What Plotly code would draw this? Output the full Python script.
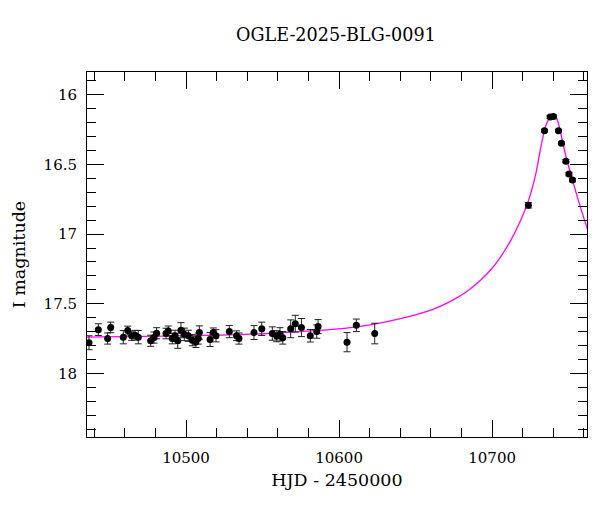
import plotly.graph_objects as go

# observed photometry (HJD - 2450000, I mag, error)
hjd = [10436.6, 10442.7, 10448.8, 10450.8, 10459.0, 10461.9, 10464.5, 10466.7, 10468.8,
       10476.9, 10479.1, 10480.8, 10486.9, 10488.4, 10491.0, 10492.8, 10494.6, 10496.7,
       10498.9, 10501.5, 10504.1, 10506.5, 10508.0, 10508.7, 10515.7, 10517.8, 10519.6,
       10528.3, 10533.0, 10534.6, 10544.4, 10549.5, 10556.4, 10559.3, 10561.4, 10563.2,
       10568.4, 10571.4, 10575.4, 10581.2, 10585.4, 10586.3, 10605.2, 10611.3, 10623.3,
       10723.7, 10734.2, 10737.9, 10740.1, 10743.4, 10745.3, 10748.2, 10750.2, 10752.5]
mag = [17.780, 17.686, 17.750, 17.670, 17.740, 17.693, 17.730, 17.726, 17.740,
       17.766, 17.743, 17.712, 17.714, 17.695, 17.750, 17.730, 17.766, 17.690,
       17.720, 17.730, 17.762, 17.774, 17.750, 17.707, 17.757, 17.707, 17.730,
       17.700, 17.730, 17.750, 17.707, 17.680, 17.714, 17.733, 17.720, 17.745,
       17.680, 17.643, 17.671, 17.730, 17.700, 17.664, 17.776, 17.655, 17.714,
       16.793, 16.257, 16.160, 16.155, 16.257, 16.348, 16.476, 16.569, 16.612]
err = [0.050, 0.042, 0.040, 0.038, 0.048, 0.032, 0.033, 0.035, 0.048,
       0.040, 0.040, 0.040, 0.038, 0.035, 0.038, 0.040, 0.054, 0.054,
       0.045, 0.040, 0.040, 0.040, 0.040, 0.048, 0.050, 0.033, 0.044,
       0.044, 0.035, 0.040, 0.050, 0.048, 0.048, 0.040, 0.048, 0.045,
       0.064, 0.060, 0.065, 0.045, 0.048, 0.050, 0.069, 0.045, 0.074,
       0.020, 0.010, 0.010, 0.010, 0.010, 0.010, 0.012, 0.012, 0.012]

# model light curve
model_hjd = [10430.6, 10538.6, 10574.6, 10597.5, 10618.3, 10640.1, 10661.8, 10672.8,
             10683.7, 10692.4, 10699.0, 10705.5, 10712.0, 10718.6, 10723.8, 10728.4,
             10731.7, 10735.0, 10738.2, 10740.0, 10742.1, 10744.8, 10748.0, 10752.4,
             10756.8, 10762.6]
model_mag = [17.740, 17.720, 17.700, 17.683, 17.655, 17.607, 17.538, 17.483,
             17.410, 17.332, 17.258, 17.165, 17.049, 16.903, 16.758, 16.575,
             16.385, 16.226, 16.155, 16.143, 16.167, 16.274, 16.430, 16.607,
             16.774, 16.976]

FONT = "DejaVu Serif"

fig = go.Figure()
fig.add_trace(go.Scatter(
    x=model_hjd, y=model_mag, mode="lines",
    line=dict(color="#ff00ff", width=1.3, shape="spline", smoothing=1.0),
    hoverinfo="skip",
))
fig.add_trace(go.Scatter(
    x=hjd, y=mag, mode="markers",
    marker=dict(color="black", size=7),
    error_y=dict(type="data", array=err, color="#222222", thickness=1, width=3.5),
))

axis_common = dict(
    showline=True, linecolor="black", linewidth=1, mirror="allticks",
    ticks="inside", ticklen=17, tickwidth=1, tickcolor="black",
    showgrid=False, zeroline=False, automargin=False,
    tickfont=dict(family=FONT, size=15, color="black"),
)

fig.update_xaxes(
    **axis_common,
    range=[10435.3, 10762.0], tick0=10500, dtick=100, tickformat="d",
    ticklabelstandoff=7,
    minor=dict(dtick=20, ticks="inside", ticklen=9, tickcolor="black", tickwidth=1),
    title=dict(text="HJD - 2450000", font=dict(family=FONT, size=17.5, color="black"), standoff=7),
)
fig.update_yaxes(
    **axis_common,
    range=[18.457, 15.836], tick0=16, dtick=0.5,
    minor=dict(dtick=0.1, ticks="inside", ticklen=9, tickcolor="black", tickwidth=1),
    ticklabelstandoff=6,
    title=dict(text="I magnitude", font=dict(family=FONT, size=17.5, color="black"), standoff=13),
)

# page body adds an 8px offset, so the figure is a little smaller than the window
fig.update_layout(
    width=592, height=504,
    margin=dict(l=79, r=13, t=64, b=75),
    paper_bgcolor="white", plot_bgcolor="white",
    showlegend=False,
    title=dict(text="OGLE-2025-BLG-0091", x=0.554, xanchor="center", y=0.946, yanchor="middle",
               font=dict(family=FONT, size=17.6, color="black")),
)

fig.write_html("out.html")
